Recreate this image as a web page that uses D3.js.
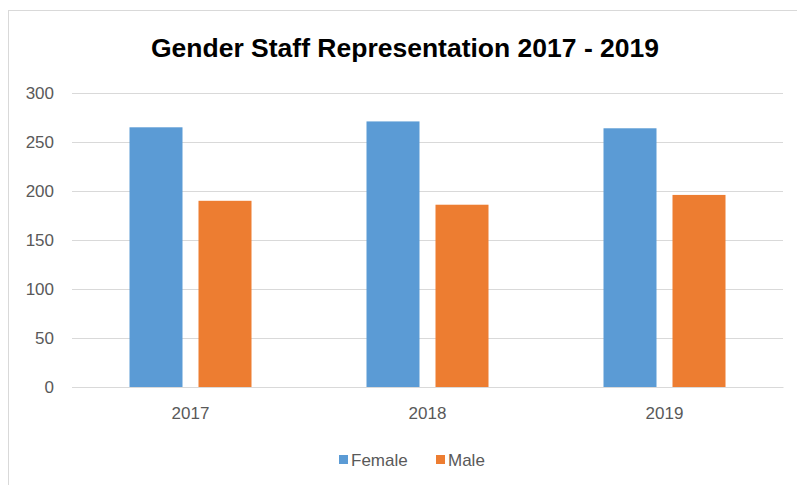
<!DOCTYPE html>
<html>
<head>
<meta charset="utf-8">
<script src="https://cdn.jsdelivr.net/npm/d3@7"></script>
<style>
  body { margin: 0; background: #fff; }
  svg { display: block; }
</style>
</head>
<body>
<svg id="chart"></svg>
<script>
// data
var years = ["2017", "2018", "2019"];
var female = [265, 271, 264];
var male = [190, 186, 196];
var seriesNames = ["Female", "Male"];
var yTicks = [0, 50, 100, 150, 200, 250, 300];

var W = 797, H = 485;
var margin = { top: 93, right: 14, bottom: 98, left: 72 };
var width = W - margin.left - margin.right;
var height = H - margin.top - margin.bottom;
var colors = ["#5B9BD5", "#ED7D31"];
var textColor = "#595959";
var groupW = 122, barGap = 16;

var svg = d3.select("#chart")
    .attr("width", W)
    .attr("height", H);

// chart area border
svg.append("rect")
    .attr("x", 8.5)
    .attr("y", 10.5)
    .attr("width", W)
    .attr("height", H)
    .attr("fill", "#fff")
    .attr("stroke", "#D9D9D9");

svg.append("text")
    .attr("x", 405)
    .attr("y", 57)
    .attr("text-anchor", "middle")
    .attr("font-family", "'Liberation Sans', sans-serif")
    .attr("font-weight", "bold")
    .attr("font-size", 26.5)
    .attr("fill", "#000")
    .text("Gender Staff Representation 2017 - 2019");

var g = svg.append("g")
    .attr("transform", "translate(" + margin.left + "," + margin.top + ")");

// scales
var x0 = d3.scaleBand()
    .domain(years)
    .range([0, width]);

// bar width 53, gap 16 -> paddingInner = gap / step
var x1 = d3.scaleBand()
    .domain(seriesNames)
    .range([0, groupW])
    .paddingInner(barGap / ((groupW + barGap) / 2));

var y = d3.scaleLinear()
    .domain([0, 300])
    .range([height, 0]);

// gridlines
var yAxis = d3.axisLeft(y)
    .tickValues(yTicks)
    .tickSize(-width)
    .tickPadding(18);

var yAxisG = g.append("g").call(yAxis);
yAxisG.select(".domain").remove();
yAxisG.selectAll(".tick line").attr("stroke", "#D9D9D9");
yAxisG.selectAll(".tick text")
    .attr("fill", textColor)
    .attr("font-family", "'Liberation Sans', sans-serif")
    .attr("font-size", 17);

// bars
var rows = years.map(function(yr, i){
    return { year: yr, values: [female[i], male[i]] };
});

var groups = g.selectAll(".year").data(rows)
    .enter().append("g")
        .attr("class", "year")
        .attr("transform", function(d){ return "translate(" + (x0(d.year) + x0.bandwidth() / 2 - groupW / 2) + ",0)"; });

groups.selectAll("rect")
    .data(function(d){ return d.values.map(function(v, j){ return { name: seriesNames[j], value: v, idx: j }; }); })
    .enter().append("rect")
        .attr("x", function(d){ return x1(d.name); })
        .attr("y", function(d){ return y(d.value); })
        .attr("width", x1.bandwidth())
        .attr("height", function(d){ return height - y(d.value); })
        .attr("fill", function(d){ return colors[d.idx]; });

// x axis
var xAxis = d3.axisBottom(x0)
    .tickSize(0)
    .tickPadding(20);

var xAxisG = g.append("g")
    .attr("transform", "translate(0," + height + ")")
    .call(xAxis);
xAxisG.select(".domain").attr("stroke", "#D9D9D9");
xAxisG.selectAll(".tick text")
    .attr("fill", textColor)
    .attr("font-family", "'Liberation Sans', sans-serif")
    .attr("font-size", 17);

// legend
var legendX = [339, 436];
var legend = svg.selectAll(".legend").data(seriesNames)
    .enter().append("g")
        .attr("class", "legend")
        .attr("transform", function(d, i){ return "translate(" + legendX[i] + ",460)"; });

legend.append("rect")
    .attr("x", 0)
    .attr("y", -5)
    .attr("width", 9)
    .attr("height", 9)
    .attr("fill", function(d, i){ return colors[i]; });

legend.append("text")
    .attr("x", 12)
    .attr("y", 6)
    .attr("fill", textColor)
    .attr("font-family", "'Liberation Sans', sans-serif")
    .attr("font-size", 17)
    .text(function(d){ return d; });
</script>
</body>
</html>
